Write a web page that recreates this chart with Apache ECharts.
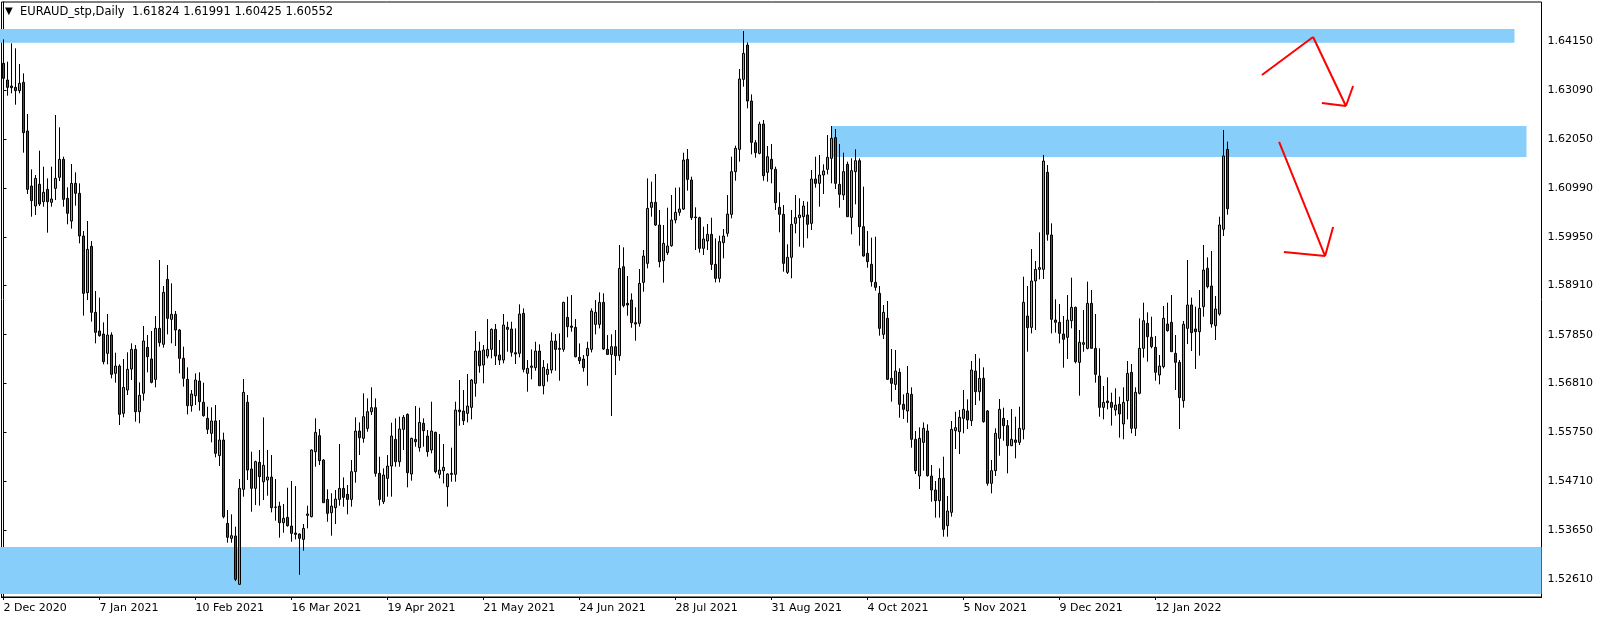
<!DOCTYPE html>
<html><head><meta charset="utf-8">
<script src="https://cdn.jsdelivr.net/npm/echarts@6/dist/echarts.min.js"></script>
<style>html,body{margin:0;padding:0;background:#fff}#c{width:1604px;height:623px}</style>
</head><body><div id="c"></div>
<script>
const symbolTitle = 'EURAUD_stp,Daily';
const lastOHLC = ['1.61824', '1.61991', '1.60425', '1.60552'];
const dateLabels = ['2 Dec 2020','7 Jan 2021','10 Feb 2021','16 Mar 2021','19 Apr 2021','21 May 2021','24 Jun 2021','28 Jul 2021','31 Aug 2021','4 Oct 2021','5 Nov 2021','9 Dec 2021','12 Jan 2022'];
const labelStep = 24;
const futureSlots = 78;
const priceTicks = [1.52610,1.53650,1.54710,1.55750,1.56810,1.57850,1.58910,1.59950,1.60990,1.62050,1.63090,1.64150];

const open = [
1.63671,1.63314,1.63185,1.63156,1.63085,1.63263,1.62220,1.61040,1.60611,1.61076,1.60704,1.60968,1.60690,1.60990,1.61226,1.61612,1.60775,1.60289,1.61097,1.60883,1.59967,1.58752,1.59746,1.58330,1.57930,1.57865,1.57450,1.57844,1.57022,1.57179,1.56164,1.56664,
1.57114,1.57536,1.56199,1.56593,1.57579,1.57329,1.56893,1.57987,1.57644,1.59038,1.58180,1.58287,1.57951,1.57343,1.56893,1.56328,1.56542,1.56857,1.56400,1.56056,1.55735,1.56000,1.55255,1.55592,1.53804,1.53482,1.53532,1.52496,1.54533,1.56400,1.54970,1.54555,
1.55112,1.54697,1.54733,1.54797,1.54154,1.54175,1.53818,1.53932,1.53746,1.53596,1.53575,1.53460,1.53975,1.53947,1.55341,1.55684,1.55162,1.54318,1.54032,1.54140,1.54318,1.54554,1.54426,1.54318,1.54912,1.55784,1.55627,1.55841,1.56199,1.56285,1.54876,
1.54268,1.54769,1.55033,1.55605,1.55126,1.55820,1.56141,1.54862,1.55605,1.55427,1.55949,1.55677,1.55377,1.55756,1.54855,1.54933,1.54590,1.54855,1.54855,1.56235,1.56213,1.56163,1.56292,1.56807,1.57500,1.57200,1.57393,1.57536,1.57965,1.57414,1.57307,1.58008,
1.57972,1.57464,1.57450,1.58308,1.57021,1.57150,1.57143,1.57500,1.56756,1.56999,1.57093,1.57715,1.57557,1.57536,1.58222,1.58036,1.58008,1.57364,1.57328,1.57400,1.57536,1.58072,1.58072,1.58544,1.57536,1.57428,1.57593,1.57400,1.59309,1.58523,1.58594,1.58108,
1.58094,1.58973,1.59381,1.60582,1.60689,1.60203,1.59438,1.59610,1.59760,1.60310,1.60475,1.60546,1.61612,1.61168,1.60375,1.60360,1.59703,1.59860,1.60003,1.59359,1.59059,1.59824,1.60024,1.60432,1.61347,1.61826,1.63328,1.64064,1.62863,1.61969,1.61740,1.62369,
1.61333,1.61612,1.61398,1.60582,1.60432,1.59188,1.59510,1.60239,1.60361,1.60382,1.60418,1.60239,1.61190,1.61097,1.61276,1.61398,1.61634,1.62077,1.61076,1.60847,1.61505,1.60368,1.61348,1.61583,1.60168,1.59596,1.59360,1.58974,1.58738,1.57858,1.58202,1.56914,
1.56785,1.57043,1.56357,1.56214,1.56571,1.55606,1.54819,1.55541,1.55785,1.54819,1.54519,1.54290,1.54769,1.53754,1.54040,1.55792,1.55770,1.56056,1.56214,1.56006,1.57071,1.56628,1.56914,1.56214,1.54662,1.54934,1.55627,1.56056,1.55899,1.55470,1.55592,1.55541,
1.55820,1.58251,1.58008,1.59002,1.59252,1.59252,1.61333,1.59989,1.58165,1.58115,1.57865,1.57794,1.58151,1.58437,1.57257,1.57644,1.57558,1.58523,1.57558,1.56964,1.56292,1.56428,1.56399,1.56235,1.56357,1.55935,1.56435,1.57043,1.55842,1.56593,1.57558,1.58094,
1.57794,1.57580,1.56986,1.57165,1.58080,1.58116,1.57451,1.57258,1.56436,1.57987,1.58488,1.57973,1.57915,1.58452,1.59274,1.58895,1.58044,1.58294,1.60111,1.61824
];
const high = [
1.64186,1.63707,1.64100,1.63993,1.63657,1.63456,1.62584,1.61397,1.61276,1.61798,1.61455,1.61204,1.61455,1.62563,1.62298,1.61669,1.61011,1.61512,1.61333,1.61097,1.60075,1.60289,1.59860,1.58788,1.58645,1.58115,1.58294,1.57901,1.57465,1.57215,1.57329,1.57472,
1.57665,1.57629,1.56828,1.58037,1.57844,1.57930,1.58251,1.59452,1.58895,1.59345,1.58952,1.58359,1.57973,1.57593,1.57150,1.56664,1.57021,1.57043,1.56821,1.56306,1.56292,1.56342,1.56020,1.55749,1.54090,1.53997,1.53733,1.54755,1.56900,1.56557,1.55341,1.55148,
1.55377,1.56077,1.55377,1.55269,1.54754,1.54268,1.54218,1.54568,1.54712,1.54604,1.53589,1.53789,1.54183,1.55391,1.56056,1.55827,1.55184,1.54533,1.54447,1.54519,1.55505,1.54790,1.54626,1.55162,1.56077,1.55970,1.56592,1.56485,1.56721,1.56485,1.55234,
1.54983,1.55269,1.55963,1.56056,1.56092,1.56127,1.56163,1.55641,1.56320,1.56285,1.56056,1.55806,1.56413,1.55770,1.55720,1.55505,1.54876,1.55427,1.56413,1.56878,1.56663,1.57007,1.56899,1.57929,1.57700,1.57629,1.58186,1.57986,1.58079,1.57736,1.58294,1.58129,
1.58129,1.57986,1.58501,1.58415,1.57307,1.57536,1.57700,1.57643,1.57307,1.57235,1.57901,1.57865,1.57879,1.58558,1.58666,1.58701,1.58186,1.57664,1.57414,1.57700,1.58415,1.58594,1.58759,1.58737,1.57843,1.57858,1.57951,1.59774,1.59724,1.59109,1.58737,1.58437,
1.59259,1.59667,1.61204,1.61133,1.61297,1.60525,1.60203,1.60575,1.60847,1.61004,1.61011,1.61755,1.61833,1.61240,1.60582,1.60382,1.60167,1.60225,1.60360,1.59917,1.59974,1.60117,1.60846,1.61669,1.61905,1.63549,1.64364,1.64121,1.63006,1.62026,1.62419,1.62455,
1.61898,1.61941,1.61455,1.60904,1.60632,1.59789,1.60525,1.60847,1.60776,1.60718,1.60704,1.61383,1.61669,1.61705,1.61505,1.62134,1.62327,1.62263,1.61941,1.61755,1.61562,1.61634,1.61827,1.61634,1.61026,1.60075,1.59932,1.59953,1.58895,1.58488,1.58573,1.57544,
1.57522,1.57129,1.56571,1.57179,1.56721,1.55785,1.55863,1.55970,1.55928,1.55055,1.54712,1.54984,1.55234,1.54390,1.55999,1.56199,1.56235,1.56664,1.56464,1.57286,1.57436,1.57343,1.57150,1.56235,1.55163,1.55842,1.56471,1.56285,1.56021,1.56256,1.56092,1.56306,
1.59095,1.58895,1.59688,1.59431,1.60046,1.61705,1.61490,1.60239,1.58609,1.58509,1.58251,1.58702,1.59074,1.58452,1.57951,1.58380,1.58988,1.58809,1.58294,1.57558,1.56750,1.56936,1.56607,1.56700,1.56521,1.56721,1.57286,1.57222,1.56721,1.58201,1.58537,1.58330,
1.58237,1.57822,1.57415,1.58466,1.58538,1.58702,1.57844,1.57308,1.58144,1.59453,1.58645,1.58452,1.58809,1.59775,1.59510,1.59646,1.58680,1.60382,1.62241,1.61991
];
const low = [
1.63171,1.62978,1.63028,1.62784,1.63028,1.61755,1.60868,1.60382,1.60418,1.60611,1.60597,1.60039,1.60597,1.60739,1.61147,1.60597,1.60218,1.60125,1.60618,1.59810,1.58259,1.58594,1.58130,1.57665,1.57808,1.57215,1.57215,1.56914,1.56821,1.55913,1.56078,1.56557,
1.56878,1.55985,1.55949,1.56435,1.57043,1.56807,1.56721,1.57593,1.57572,1.57858,1.57665,1.57608,1.57022,1.56736,1.56142,1.56199,1.56342,1.56221,1.56092,1.55720,1.55541,1.55220,1.55034,1.53911,1.53389,1.53389,1.52567,1.52490,1.54376,1.54734,1.54054,1.54197,
1.54183,1.54304,1.54397,1.54040,1.53861,1.53496,1.53603,1.53732,1.53410,1.53460,1.52700,1.53217,1.53696,1.53932,1.55019,1.55055,1.54247,1.53839,1.53539,1.53789,1.54183,1.54161,1.53997,1.54161,1.54676,1.55269,1.55534,1.55770,1.56127,1.54805,1.54183,
1.54218,1.54376,1.54376,1.55019,1.55019,1.55377,1.54576,1.54719,1.55448,1.55341,1.55448,1.55234,1.55305,1.54876,1.54769,1.54661,1.54161,1.54697,1.54697,1.55899,1.55913,1.55970,1.56034,1.56521,1.57035,1.56807,1.57343,1.57343,1.57200,1.57200,1.57236,1.57486,
1.57379,1.57221,1.57364,1.57043,1.56628,1.56892,1.57078,1.56756,1.56571,1.56842,1.57021,1.57078,1.56864,1.57486,1.57794,1.57915,1.57364,1.57221,1.57057,1.56756,1.57471,1.57858,1.57986,1.57521,1.57414,1.56106,1.56985,1.57293,1.58437,1.58258,1.58000,1.57722,
1.58022,1.58773,1.59274,1.60382,1.60182,1.59295,1.58966,1.59560,1.59738,1.60239,1.60403,1.60525,1.60940,1.60310,1.59667,1.59610,1.59560,1.59667,1.59238,1.58973,1.58973,1.59488,1.59953,1.60346,1.61154,1.61562,1.63170,1.62706,1.61719,1.61647,1.61719,1.61154,
1.61133,1.61097,1.60525,1.60046,1.59203,1.59152,1.59060,1.60025,1.59739,1.59717,1.59918,1.60096,1.61004,1.60597,1.60869,1.61290,1.61097,1.60976,1.60575,1.60740,1.60382,1.60003,1.60647,1.59760,1.59524,1.59288,1.58881,1.58795,1.57830,1.57758,1.56878,1.56414,
1.56664,1.56071,1.56042,1.55963,1.55427,1.54862,1.54540,1.54934,1.54805,1.54269,1.53926,1.53926,1.53518,1.53518,1.53947,1.55398,1.55291,1.55735,1.55828,1.55892,1.56342,1.56435,1.55963,1.54612,1.54448,1.54819,1.55255,1.55577,1.54876,1.55460,1.55198,1.55484,
1.55606,1.57486,1.57879,1.57951,1.59038,1.59045,1.59867,1.57879,1.57894,1.57665,1.57143,1.57329,1.57987,1.57236,1.56542,1.57486,1.57536,1.57558,1.56821,1.56092,1.56035,1.56249,1.55899,1.56113,1.55642,1.55606,1.56035,1.55735,1.55677,1.56571,1.57358,1.57272,
1.57558,1.56864,1.56786,1.57129,1.57916,1.57487,1.56664,1.55828,1.56285,1.57651,1.57501,1.57115,1.57401,1.58237,1.58845,1.58002,1.57737,1.58259,1.59968,1.60425
];
const close = [
1.63349,1.63156,1.63149,1.63085,1.63242,1.62184,1.60968,1.60725,1.61204,1.60654,1.60904,1.60704,1.60761,1.61204,1.61612,1.60754,1.60454,1.61097,1.60883,1.59967,1.58737,1.59681,1.58330,1.57901,1.57830,1.57272,1.57844,1.57000,1.57179,1.56142,1.56721,1.57107,
1.57536,1.56199,1.56550,1.57715,1.57379,1.56828,1.57987,1.57680,1.58759,1.58201,1.58287,1.57951,1.57343,1.56914,1.56328,1.56578,1.56879,1.56414,1.56113,1.55820,1.56000,1.55306,1.55592,1.53947,1.53504,1.53539,1.52603,1.54555,1.56614,1.54948,1.54555,1.55127,
1.54805,1.55048,1.54797,1.54140,1.54147,1.53818,1.53911,1.53754,1.53589,1.53568,1.53482,1.53696,1.54004,1.55377,1.55755,1.55148,1.54247,1.54018,1.54175,1.54325,1.54554,1.54361,1.54318,1.54912,1.55784,1.55641,1.56092,1.56199,1.56285,1.54876,1.54318,
1.54840,1.55033,1.55677,1.55126,1.55827,1.56077,1.54890,1.55627,1.55555,1.55970,1.55791,1.55341,1.55784,1.54912,1.54947,1.55005,1.54862,1.54876,1.56235,1.56199,1.56006,1.56320,1.56878,1.57500,1.57185,1.57522,1.57536,1.57965,1.57393,1.57307,1.58058,1.57965,
1.57472,1.57436,1.58294,1.57107,1.57128,1.57178,1.57500,1.56756,1.57150,1.57107,1.57715,1.57536,1.57536,1.58544,1.58022,1.58008,1.57379,1.57293,1.57143,1.57557,1.58358,1.58330,1.58544,1.57543,1.57428,1.57593,1.57400,1.59273,1.58473,1.58487,1.58108,1.58079,
1.58951,1.59538,1.60560,1.60689,1.60203,1.59417,1.59810,1.59753,1.60310,1.60475,1.60546,1.61597,1.61182,1.60360,1.60360,1.59703,1.59903,1.60003,1.59359,1.59059,1.59846,1.59967,1.60439,1.61347,1.61848,1.63335,1.63885,1.62863,1.61976,1.61755,1.62369,1.61261,
1.61669,1.61405,1.60683,1.60432,1.59381,1.59510,1.60218,1.60361,1.60418,1.60611,1.60218,1.61190,1.61097,1.61276,1.61362,1.61655,1.62063,1.61097,1.60861,1.61348,1.60382,1.61369,1.61583,1.60168,1.59539,1.59417,1.58988,1.58866,1.57987,1.58330,1.56893,1.56807,
1.57071,1.56357,1.56249,1.56593,1.55606,1.54934,1.55627,1.55842,1.54827,1.54519,1.54290,1.54769,1.53675,1.54069,1.55820,1.55856,1.56078,1.56249,1.56021,1.57093,1.56628,1.56914,1.55985,1.54662,1.54934,1.55735,1.56249,1.55899,1.55470,1.55606,1.55541,1.55842,
1.58544,1.58001,1.59002,1.59252,1.59288,1.61576,1.60003,1.58180,1.58115,1.57879,1.57751,1.58165,1.58437,1.57272,1.57686,1.57679,1.58523,1.57558,1.57000,1.56292,1.56399,1.56392,1.56292,1.56342,1.56149,1.56399,1.57021,1.55842,1.56614,1.57558,1.58151,1.57808,
1.57594,1.57043,1.57179,1.58202,1.57937,1.57487,1.57258,1.56500,1.58073,1.58488,1.57894,1.57915,1.58416,1.59238,1.58881,1.58080,1.58402,1.60204,1.61684,1.60552
];

// horizontal zones drawn on the chart: [fromBar, toBar, upperPrice, lowerPrice]
const zones = [
  [-0.9, 377.75, 1.64407, 1.64114],
  [207.0, 380.75, 1.62327, 1.61662],
  [-0.9, 384.5, 1.53296, 1.52288]
];
// hand-drawn arrow strokes: [barA, priceA, barB, priceB]
const arrowStrokes = [
  [314.6, 1.63421, 327.4, 1.64236],
  [327.4, 1.64236, 335.6, 1.62756],
  [329.6, 1.62820, 335.6, 1.62756],
  [337.4, 1.63185, 335.6, 1.62756],
  [318.9, 1.61984, 330.4, 1.59538],
  [320.1, 1.59624, 330.4, 1.59538],
  [332.4, 1.60160, 330.4, 1.59538]
];

const FONT = 'DejaVu Sans';
const nSlots = open.length + futureSlots;
const cats = [];
for (let i = 0; i < nSlots; i++) cats.push(String(i));
const candles = open.map((o, i) => [o, close[i], low[i], high[i]]);
const showLabel = (i) => i % labelStep === 0 && (i / labelStep) < dateLabels.length;

const chart = echarts.init(document.getElementById('c'), null, {renderer: 'canvas'});
chart.setOption({
  animation: false,
  backgroundColor: '#ffffff',
  title: [
    {text: '\u25BC', left: 0, top: 1, padding: 5, textStyle: {fontFamily: FONT, fontSize: 10, fontWeight: 'normal', color: '#000'}},
    {text: symbolTitle + '  ' + lastOHLC.join(' '), left: 15, top: 1, padding: 5, textStyle: {fontFamily: FONT, fontSize: 11.5, fontWeight: 'normal', color: '#000'}}
  ],
  grid: {left: 1.5, right: 62.5, top: 2, bottom: 26, show: true, borderColor: '#000', borderWidth: 1, backgroundColor: 'transparent'},
  xAxis: [
    {
      type: 'category', data: cats, boundaryGap: true,
      axisLine: {show: true, lineStyle: {color: '#000', width: 1}},
      axisTick: {show: true, alignWithLabel: true, interval: (i) => showLabel(i), length: 3, lineStyle: {color: '#000'}},
      axisLabel: {
        show: true, interval: (i) => showLabel(i), align: 'left', margin: 6,
        formatter: (v, i) => dateLabels[i / labelStep] || '',
        fontFamily: FONT, fontSize: 11, color: '#000'
      },
      splitLine: {show: false}
    },
    {type: 'value', min: -0.5, max: nSlots - 0.5, show: false}
  ],
  yAxis: {
    type: 'value', position: 'right', min: 1.52224, max: 1.64987, scale: true,
    axisLine: {show: true, lineStyle: {color: '#000', width: 1}},
    axisTick: {show: true, customValues: priceTicks, length: 3, lineStyle: {color: '#000'}},
    axisLabel: {show: true, customValues: priceTicks, formatter: (v) => v.toFixed(5), margin: 6, fontFamily: FONT, fontSize: 11, color: '#000'},
    splitLine: {show: false}
  },
  series: [
    {
      type: 'custom', xAxisIndex: 1, yAxisIndex: 0, silent: true, clip: false, z: 1,
      data: zones,
      encode: {x: [0, 1], y: [2, 3]},
      renderItem: (params, api) => {
        const a = api.coord([api.value(0), api.value(2)]);
        const b = api.coord([api.value(1), api.value(3)]);
        return {type: 'rect', shape: {x: a[0], y: a[1], width: b[0] - a[0], height: b[1] - a[1]}, style: {fill: '#87CEFA'}};
      }
    },
    {
      type: 'candlestick', xAxisIndex: 0, yAxisIndex: 0, z: 3,
      data: candles, barWidth: 3, silent: true,
      itemStyle: {color: '#00ff00', color0: '#ff0000', borderColor: '#000000', borderColor0: '#000000', borderColorDoji: '#000000', borderWidth: 1},
      emphasis: {disabled: true},
      markLine: {
        silent: true, symbol: ['none', 'none'], animation: false,
        lineStyle: {opacity: 0},
        label: {show: true, position: 'end', formatter: lastOHLC[3], color: '#fff', backgroundColor: '#000', padding: [1, 5, 0, 4], lineHeight: 12, distance: 1, fontFamily: FONT, fontSize: 11},
        data: [{yAxis: Number(lastOHLC[3])}]
      }
    },
    {
      type: 'custom', xAxisIndex: 1, yAxisIndex: 0, silent: true, clip: false, z: 5,
      data: arrowStrokes,
      encode: {x: [0, 2], y: [1, 3]},
      renderItem: (params, api) => {
        const a = api.coord([api.value(0), api.value(1)]);
        const b = api.coord([api.value(2), api.value(3)]);
        return {type: 'line', shape: {x1: a[0], y1: a[1], x2: b[0], y2: b[1]}, style: {stroke: '#ff0000', lineWidth: 2}};
      }
    }
  ]
});
</script>
</body></html>
